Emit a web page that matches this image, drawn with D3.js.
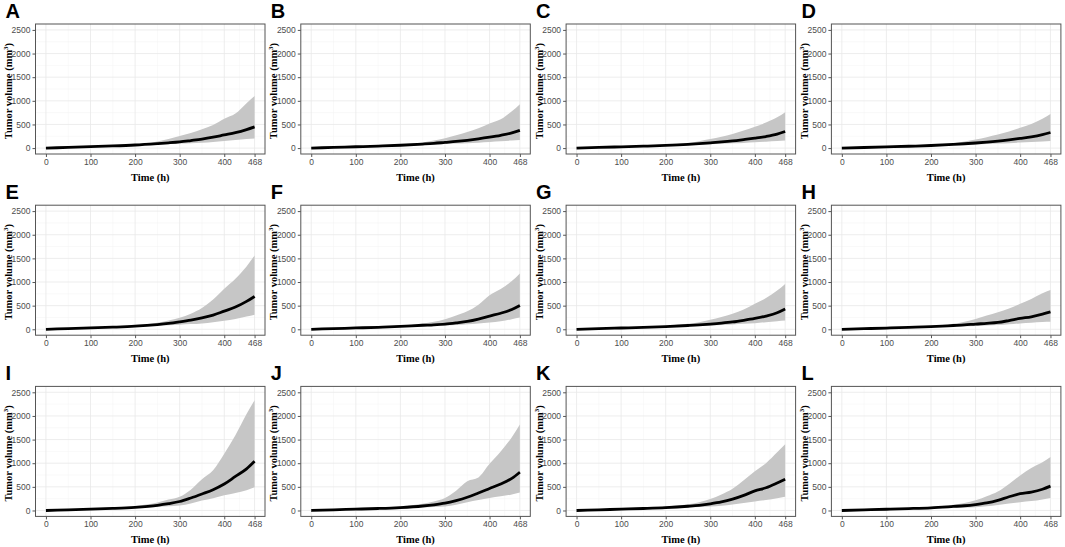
<!DOCTYPE html>
<html>
<head>
<meta charset="utf-8">
<script src="https://cdn.jsdelivr.net/npm/d3@7"></script>
<style>
    body { margin: 0; background: #fff; }
    .tick-label { font-family: "Liberation Sans Narrow", "Arial Narrow", "Liberation Sans", sans-serif; font-size: 8.5px; fill: #4d4d4d; }
    .axis-title { font-family: "Liberation Serif", "Times New Roman", serif; font-weight: bold; font-size: 10.5px; fill: #000; }
    .panel-label { font-family: "Liberation Sans", Arial, sans-serif; font-weight: bold; font-size: 20px; fill: #000; }
</style>
</head>
<body>
<svg id="SVGgrid" width="1065" height="547"></svg>
<script>
"use strict";

/** panel letters, row by row */
const panelLabels = ["A", "B", "C", "D", "E", "F", "G", "H", "I", "J", "K", "L"];
/** sampled time points (h) */
const timePoints = [0, 50, 100, 150, 200, 250, 275, 300, 325, 350, 375, 400, 425, 450, 468];
/** axis ticks */
const xTicks = [0, 100, 200, 300, 400, 468];
const xMinorTicks = [50, 150, 250, 350, 434];
const yTicks = [0, 500, 1000, 1500, 2000, 2500];
const yMinorTicks = [250, 750, 1250, 1750, 2250];

/** median tumour volume (mm3), one row per panel */
const medianSeries = [
    [0, 15, 30, 45, 65, 95, 112, 132, 160, 190, 230, 278, 325, 390, 448],
    [0, 14, 28, 42, 60, 85, 100, 120, 140, 165, 195, 230, 270, 320, 375],
    [0, 14, 27, 40, 57, 80, 95, 112, 130, 152, 180, 210, 245, 295, 350],
    [0, 13, 26, 39, 55, 78, 92, 108, 126, 148, 175, 205, 238, 285, 330],
    [0, 15, 30, 45, 65, 100, 125, 158, 195, 240, 300, 385, 470, 590, 695],
    [0, 14, 28, 42, 60, 85, 95, 110, 135, 165, 215, 280, 340, 420, 505],
    [0, 14, 27, 40, 58, 80, 93, 110, 130, 155, 190, 230, 280, 350, 430],
    [0, 13, 26, 40, 57, 80, 92, 110, 125, 145, 185, 230, 265, 320, 368],
    [0, 15, 30, 45, 68, 110, 145, 190, 265, 350, 440, 560, 720, 880, 1040],
    [0, 15, 28, 42, 62, 95, 120, 155, 210, 280, 370, 465, 560, 680, 810],
    [0, 14, 28, 42, 60, 90, 110, 140, 180, 240, 320, 415, 480, 580, 660],
    [0, 13, 26, 40, 57, 85, 100, 125, 160, 215, 290, 355, 390, 450, 515]
];
/** lower bound of the band */
const lowerSeries = [
    [0, 12, 25, 38, 55, 75, 85, 95, 105, 115, 130, 150, 170, 190, 205],
    [0, 11, 22, 34, 48, 65, 75, 85, 95, 105, 115, 130, 145, 160, 170],
    [0, 11, 22, 33, 46, 62, 70, 80, 90, 100, 110, 122, 135, 150, 160],
    [0, 11, 21, 32, 45, 60, 68, 77, 86, 95, 105, 116, 128, 140, 150],
    [0, 12, 25, 38, 55, 75, 85, 96, 110, 125, 150, 180, 220, 270, 310],
    [0, 11, 22, 34, 48, 62, 70, 78, 90, 105, 125, 145, 170, 215, 250],
    [0, 11, 22, 33, 46, 62, 70, 80, 90, 100, 115, 130, 150, 170, 185],
    [0, 11, 21, 32, 45, 60, 66, 72, 80, 90, 105, 125, 140, 155, 160],
    [0, 12, 25, 38, 55, 75, 90, 106, 150, 210, 260, 320, 370, 430, 490],
    [0, 11, 23, 35, 50, 68, 76, 85, 120, 175, 220, 265, 300, 340, 380],
    [0, 11, 22, 34, 48, 65, 73, 83, 100, 125, 160, 190, 220, 260, 290],
    [0, 11, 21, 32, 45, 60, 65, 70, 90, 115, 150, 175, 200, 235, 265]
];
/** upper bound of the band */
const upperSeries = [
    [0, 20, 40, 60, 85, 140, 190, 255, 320, 400, 490, 620, 730, 950, 1100],
    [0, 18, 36, 55, 78, 120, 160, 210, 270, 340, 420, 520, 610, 780, 930],
    [0, 17, 34, 52, 74, 110, 145, 190, 240, 300, 370, 450, 540, 650, 760],
    [0, 17, 33, 50, 72, 105, 140, 180, 230, 285, 350, 430, 510, 620, 720],
    [0, 20, 40, 60, 90, 140, 185, 245, 330, 450, 630, 860, 1070, 1330, 1560],
    [0, 18, 36, 55, 80, 125, 160, 215, 290, 380, 520, 720, 850, 1020, 1180],
    [0, 17, 34, 52, 75, 115, 150, 200, 260, 330, 420, 540, 660, 820, 960],
    [0, 17, 34, 52, 74, 115, 160, 220, 290, 360, 440, 540, 640, 760, 830],
    [0, 20, 40, 62, 95, 170, 230, 290, 440, 660, 850, 1200, 1590, 2040, 2330],
    [0, 19, 38, 58, 88, 140, 190, 265, 420, 620, 700, 990, 1250, 1550, 1820],
    [0, 18, 36, 55, 82, 130, 175, 245, 340, 460, 640, 830, 1000, 1230, 1400],
    [0, 17, 34, 52, 76, 120, 160, 215, 300, 400, 560, 740, 900, 1020, 1130]
];

/** whole grid of small multiples */
const gridChart = {
    SVG: d3.select("#SVGgrid"),
    /** panel box geometry */
    box: { left: 35.5, top: 24, width: 229.5, height: 130, stepX: 265.3, stepY: 181.2 },
    render: () => {
        const b = gridChart.box;
        // shared scales, ggplot style 5% expansion
        const x = d3.scaleLinear().domain([-23.4, 491.4]).range([0, b.width]);
        const y = d3.scaleLinear().domain([-125, 2625]).range([b.height, 0]);
        const area = d3.area()
            .curve(d3.curveMonotoneX)
            .x((d, i) => x(timePoints[i]))
            .y0(d => y(d[0]))
            .y1(d => y(d[1]));
        const line = d3.line()
            .curve(d3.curveMonotoneX)
            .x((d, i) => x(timePoints[i]))
            .y(d => y(d));

        panelLabels.forEach((label, p) => {
            const col = p % 4, row = Math.floor(p / 4);
            const g = gridChart.SVG.append("g")
                .attr("transform", "translate(" + (b.left + col * b.stepX) + "," + (b.top + row * b.stepY) + ")");

            // minor grid
            g.selectAll(".minorX").data(xMinorTicks).enter().append("line")
                .attr("x1", d => x(d)).attr("x2", d => x(d))
                .attr("y1", 0).attr("y2", b.height)
                .style("stroke", "#f3f3f3").style("stroke-width", 0.5);
            g.selectAll(".minorY").data(yMinorTicks).enter().append("line")
                .attr("x1", 0).attr("x2", b.width)
                .attr("y1", d => y(d)).attr("y2", d => y(d))
                .style("stroke", "#f3f3f3").style("stroke-width", 0.5);
            // major grid
            g.selectAll(".majorX").data(xTicks).enter().append("line")
                .attr("x1", d => x(d)).attr("x2", d => x(d))
                .attr("y1", 0).attr("y2", b.height)
                .style("stroke", "#e8e8e8").style("stroke-width", 0.8);
            g.selectAll(".majorY").data(yTicks).enter().append("line")
                .attr("x1", 0).attr("x2", b.width)
                .attr("y1", d => y(d)).attr("y2", d => y(d))
                .style("stroke", "#e8e8e8").style("stroke-width", 0.8);

            // band and median
            const band = lowerSeries[p].map((v, i) => [v, upperSeries[p][i]]);
            g.append("path").attr("d", area(band))
                .style("fill", "#c6c6c6").style("stroke", "none");
            g.append("path").attr("d", line(medianSeries[p]))
                .style("fill", "none").style("stroke", "#000")
                .style("stroke-width", 2.8).style("stroke-linejoin", "round");

            // panel border
            g.append("rect").attr("width", b.width).attr("height", b.height)
                .style("fill", "none").style("stroke", "#555").style("stroke-width", 1);

            // axes
            const xAxis = g.append("g").attr("transform", "translate(0," + b.height + ")")
                .call(d3.axisBottom(x).tickValues(xTicks).tickFormat(d3.format("d")).tickSize(3).tickPadding(2));
            const yAxis = g.append("g")
                .call(d3.axisLeft(y).tickValues(yTicks).tickFormat(d3.format("d")).tickSize(3).tickPadding(2));
            [xAxis, yAxis].forEach(a => {
                a.select(".domain").remove();
                a.selectAll(".tick line").style("stroke", "#555");
                a.selectAll(".tick text").attr("class", "tick-label").attr("font-size", null).attr("font-family", null);
            });

            // titles
            g.append("text").attr("class", "axis-title")
                .attr("text-anchor", "middle")
                .attr("x", b.width / 2).attr("y", b.height + 27)
                .text("Time (h)");
            g.append("text").attr("class", "axis-title")
                .attr("text-anchor", "middle")
                .attr("transform", "translate(-23.5," + (b.height / 2 + 2) + ") rotate(-90)")
                .html("Tumor volume (mm<tspan dy='-4' font-size='7px'>3</tspan><tspan dy='4'>)</tspan>");
            g.append("text").attr("class", "panel-label")
                .attr("x", -30).attr("y", -6)
                .text(label);
        });
    }
};

gridChart.render();
</script>
</body>
</html>
